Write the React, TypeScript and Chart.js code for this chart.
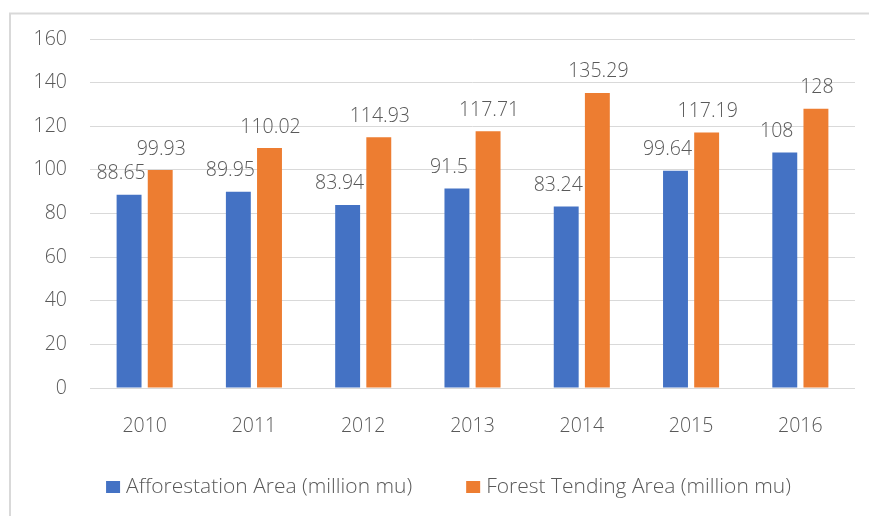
import React, { useEffect, useRef } from "react";
import { Chart, registerables } from "chart.js";

Chart.register(...registerables);

const years = ["2010", "2011", "2012", "2013", "2014", "2015", "2016"];
const afforestation = [88.65, 89.95, 83.94, 91.5, 83.24, 99.64, 108];
const forestTending = [99.93, 110.02, 114.93, 117.71, 135.29, 117.19, 128];
const seriesNames = ["Afforestation Area (million mu)", "Forest Tending Area (million mu)"];
const seriesColors = ["#4472C4", "#ED7D31"];

const FONT = "'Open Sans', Lato, sans-serif";
const TEXT = "#595959";
const GRID = "#d9d9d9";
const FS = 19.5;
const LEGEND_FS = 21;

const framePlugin = {
  id: "frame",
  beforeDraw(chart: any) {
    const ctx = chart.ctx;
    ctx.save();
    ctx.fillStyle = "#ffffff";
    ctx.fillRect(0, 0, chart.width, chart.height);
    ctx.strokeStyle = GRID;
    ctx.lineWidth = 2;
    ctx.strokeRect(10, 13.5, 2000, 2000);
    ctx.restore();
  },
};

const labelPlugin = {
  id: "valueLabels",
  afterDatasetsDraw(chart: any) {
    const ctx = chart.ctx;
    ctx.save();
    ctx.font = `300 ${FS}px ${FONT}`;
    ctx.fillStyle = TEXT;
    ctx.textAlign = "center";
    ctx.textBaseline = "middle";
    chart.data.datasets.forEach((ds: any, di: number) => {
      const meta = chart.getDatasetMeta(di);
      const dx = di === 0 ? -8 : 1;
      meta.data.forEach((bar: any, i: number) => {
        ctx.fillText(String(ds.data[i]), bar.x + dx, bar.y - 21);
      });
    });
    ctx.restore();
  },
};

const legendPlugin = {
  id: "customLegend",
  afterDraw(chart: any) {
    const ctx = chart.ctx;
    ctx.save();
    ctx.font = `300 ${LEGEND_FS}px ${FONT}`;
    ctx.textBaseline = "middle";
    ctx.textAlign = "left";
    const box = 14;
    const gap = 6;
    const itemGap = 54;
    const items = chart.data.datasets.map((ds: any) => ({
      label: ds.label,
      color: ds.backgroundColor,
      w: box + gap + ctx.measureText(ds.label).width,
    }));
    const total = items.reduce((s: number, it: any) => s + it.w, 0) + itemGap * (items.length - 1);
    let x = 448.5 - total / 2;
    const y = 487;
    items.forEach((it: any) => {
      ctx.fillStyle = it.color;
      ctx.fillRect(x, y - 6, box, 12);
      ctx.fillStyle = TEXT;
      ctx.fillText(it.label, x + box + gap, y);
      x += it.w + itemGap;
    });
    ctx.restore();
  },
};

export default function App() {
  const ref = useRef<HTMLCanvasElement | null>(null);
  useEffect(() => {
    if (!ref.current) return;
    const chart = new Chart(ref.current, {
      type: "bar",
      data: {
        labels: years,
        datasets: [
          { label: seriesNames[0], data: afforestation, backgroundColor: seriesColors[0] },
          { label: seriesNames[1], data: forestTending, backgroundColor: seriesColors[1] },
        ],
      },
      options: {
        responsive: false,
        animation: false,
        categoryPercentage: 0.57,
        barPercentage: 0.8,
        layout: { padding: { top: 39, left: 0, right: 14, bottom: 0 } },
        plugins: { legend: { display: false }, tooltip: { enabled: false } },
        scales: {
          x: {
            grid: { display: false },
            border: { display: false },
            ticks: { color: TEXT, font: { family: FONT, size: FS, weight: "300" as any }, padding: 19 },
            afterFit: (s: any) => {
              s.height = 128;
            },
          },
          y: {
            min: 0,
            max: 160,
            ticks: { stepSize: 20, color: TEXT, font: { family: FONT, size: FS, weight: "300" as any }, padding: 23 },
            grid: { color: GRID, lineWidth: 1, drawTicks: false },
            border: { display: false },
            afterFit: (s: any) => {
              s.width = 90;
            },
          },
        },
      },
      plugins: [framePlugin, labelPlugin, legendPlugin],
    });
    return () => chart.destroy();
  }, []);
  return (
    <div style={{ position: "absolute", left: 0, top: 0, width: 869, height: 516 }}>
      <canvas ref={ref} width={869} height={516} />
    </div>
  );
}
